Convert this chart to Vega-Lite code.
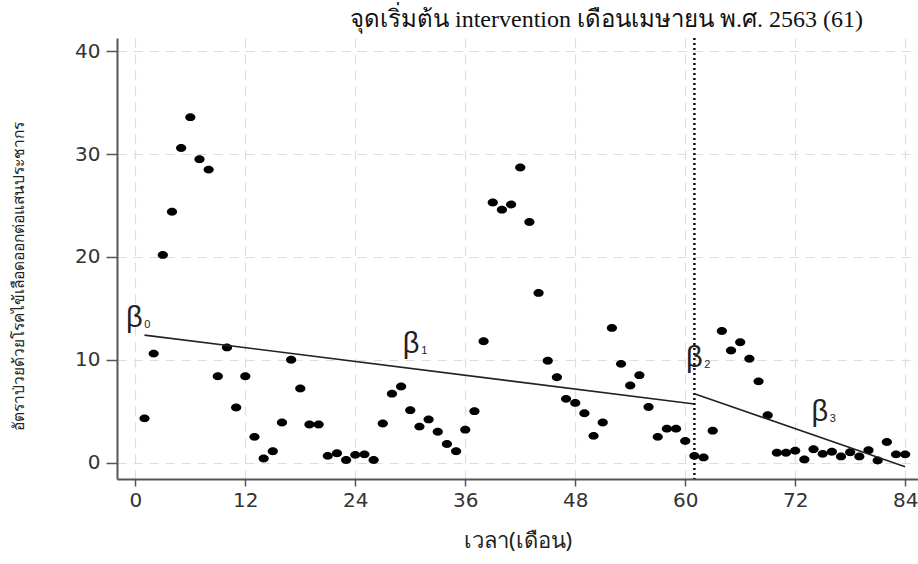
{
  "$schema": "https://vega.github.io/schema/vega-lite/v6.json",
  "width": 801,
  "height": 441,
  "autosize": {"type": "none"},
  "padding": {"left": 117, "top": 38, "right": 0, "bottom": 85},
  "background": "white",
  "config": {
    "view": {"stroke": null},
    "axis": {
      "labelFont": "DejaVu Sans",
      "labelFontSize": 20,
      "labelColor": "#333333",
      "domainColor": "#555555",
      "domainWidth": 2,
      "tickColor": "#555555",
      "tickWidth": 1.5,
      "gridColor": "#dddddd",
      "gridDash": [9, 7],
      "gridWidth": 1.2,
      "titleFontWeight": "normal",
      "titleColor": "#222222"
    }
  },
  "title": {
    "text": "จุดเริ่มต้น intervention เดือนเมษายน พ.ศ. 2563 (61)",
    "font": "Liberation Serif",
    "fontSize": 24,
    "fontWeight": "normal",
    "color": "#111111",
    "anchor": "middle",
    "dx": 89,
    "offset": 5
  },
  "datasets": {
    "obs": [
      {"month": 1, "rate": 4.3}, {"month": 2, "rate": 10.6}, {"month": 3, "rate": 20.2}, {"month": 4, "rate": 24.4},
      {"month": 5, "rate": 30.6}, {"month": 6, "rate": 33.6}, {"month": 7, "rate": 29.5}, {"month": 8, "rate": 28.5},
      {"month": 9, "rate": 8.4}, {"month": 10, "rate": 11.2}, {"month": 11, "rate": 5.35}, {"month": 12, "rate": 8.4},
      {"month": 13, "rate": 2.5}, {"month": 14, "rate": 0.4}, {"month": 15, "rate": 1.1}, {"month": 16, "rate": 3.9},
      {"month": 17, "rate": 10.0}, {"month": 18, "rate": 7.2}, {"month": 19, "rate": 3.7}, {"month": 20, "rate": 3.7},
      {"month": 21, "rate": 0.65}, {"month": 22, "rate": 0.9}, {"month": 23, "rate": 0.25}, {"month": 24, "rate": 0.75},
      {"month": 25, "rate": 0.8}, {"month": 26, "rate": 0.25}, {"month": 27, "rate": 3.8}, {"month": 28, "rate": 6.7},
      {"month": 29, "rate": 7.4}, {"month": 30, "rate": 5.1}, {"month": 31, "rate": 3.5}, {"month": 32, "rate": 4.2},
      {"month": 33, "rate": 3.0}, {"month": 34, "rate": 1.8}, {"month": 35, "rate": 1.1}, {"month": 36, "rate": 3.2},
      {"month": 37, "rate": 5.0}, {"month": 38, "rate": 11.8}, {"month": 39, "rate": 25.3}, {"month": 40, "rate": 24.6},
      {"month": 41, "rate": 25.1}, {"month": 42, "rate": 28.7}, {"month": 43, "rate": 23.4}, {"month": 44, "rate": 16.5},
      {"month": 45, "rate": 9.9}, {"month": 46, "rate": 8.3}, {"month": 47, "rate": 6.2}, {"month": 48, "rate": 5.8},
      {"month": 49, "rate": 4.8}, {"month": 50, "rate": 2.6}, {"month": 51, "rate": 3.9}, {"month": 52, "rate": 13.1},
      {"month": 53, "rate": 9.6}, {"month": 54, "rate": 7.5}, {"month": 55, "rate": 8.5}, {"month": 56, "rate": 5.4},
      {"month": 57, "rate": 2.5}, {"month": 58, "rate": 3.3}, {"month": 59, "rate": 3.3}, {"month": 60, "rate": 2.1},
      {"month": 61, "rate": 0.65}, {"month": 62, "rate": 0.5}, {"month": 63, "rate": 3.1}, {"month": 64, "rate": 12.8},
      {"month": 65, "rate": 10.9}, {"month": 66, "rate": 11.7}, {"month": 67, "rate": 10.1}, {"month": 68, "rate": 7.9},
      {"month": 69, "rate": 4.6}, {"month": 70, "rate": 0.95}, {"month": 71, "rate": 0.95}, {"month": 72, "rate": 1.15},
      {"month": 73, "rate": 0.3}, {"month": 74, "rate": 1.3}, {"month": 75, "rate": 0.85}, {"month": 76, "rate": 1.05},
      {"month": 77, "rate": 0.6}, {"month": 78, "rate": 1.0}, {"month": 79, "rate": 0.6}, {"month": 80, "rate": 1.2},
      {"month": 81, "rate": 0.2}, {"month": 82, "rate": 2.0}, {"month": 83, "rate": 0.8}, {"month": 84, "rate": 0.8}
    ],
    "fit": [
      {"seg": "pre", "month": 1, "rate": 12.4},
      {"seg": "pre", "month": 61, "rate": 5.7},
      {"seg": "post", "month": 61, "rate": 6.7},
      {"seg": "post", "month": 84, "rate": -0.4}
    ],
    "cut": [{"month": 61}],
    "betas": [
      {"month": -0.1, "rate": 14.1, "sym": "β", "sub": "0"},
      {"month": 30.1, "rate": 11.5, "sym": "β", "sub": "1"},
      {"month": 61.0, "rate": 10.2, "sym": "β", "sub": "2"},
      {"month": 74.7, "rate": 4.9, "sym": "β", "sub": "3"}
    ]
  },
  "layer": [
    {
      "data": {"name": "obs"},
      "mark": {
        "type": "point",
        "filled": true,
        "color": "#000000",
        "opacity": 1,
        "size": 62,
        "shape": "M-1.3,0 A1.3,1 0 1,1 1.3,0 A1.3,1 0 1,1 -1.3,0 Z"
      },
      "encoding": {
        "x": {
          "field": "month",
          "type": "quantitative",
          "scale": {"domain": [-2, 85.4], "nice": false, "zero": false},
          "axis": {
            "values": [0, 12, 24, 36, 48, 60, 72, 84],
            "title": "เวลา(เดือน)",
            "titleFont": "Noto Sans",
            "titleFontSize": 22,
            "titlePadding": 20,
            "tickSize": 7,
            "labelPadding": 4
          }
        },
        "y": {
          "field": "rate",
          "type": "quantitative",
          "scale": {"domain": [-1.6, 41.3], "nice": false, "zero": false},
          "axis": {
            "values": [0, 10, 20, 30, 40],
            "title": "อัตราป่วยด้วยโรคไข้เลือดออกต่อแสนประชากร",
            "titleFont": "Noto Sans",
            "titleFontSize": 15.5,
            "titleY": 238,
            "titlePadding": 48,
            "tickSize": 11,
            "labelPadding": 6
          }
        }
      }
    },
    {
      "data": {"name": "fit"},
      "mark": {"type": "line", "color": "#222222", "strokeWidth": 1.6},
      "encoding": {
        "x": {"field": "month", "type": "quantitative"},
        "y": {"field": "rate", "type": "quantitative"},
        "detail": {"field": "seg"}
      }
    },
    {
      "data": {"name": "cut"},
      "mark": {"type": "rule", "color": "#111111", "strokeWidth": 2.5, "strokeDash": [2, 3]},
      "encoding": {
        "x": {"field": "month", "type": "quantitative"}
      }
    },
    {
      "data": {"name": "betas"},
      "mark": {"type": "text", "font": "Liberation Sans", "fontSize": 29, "color": "#222222", "baseline": "middle", "align": "center"},
      "encoding": {
        "x": {"field": "month", "type": "quantitative"},
        "y": {"field": "rate", "type": "quantitative"},
        "text": {"field": "sym"}
      }
    },
    {
      "data": {"name": "betas"},
      "mark": {"type": "text", "font": "Liberation Sans", "fontSize": 11, "color": "#222222", "baseline": "middle", "align": "center", "dx": 13, "dy": 7},
      "encoding": {
        "x": {"field": "month", "type": "quantitative"},
        "y": {"field": "rate", "type": "quantitative"},
        "text": {"field": "sub"}
      }
    }
  ]
}
